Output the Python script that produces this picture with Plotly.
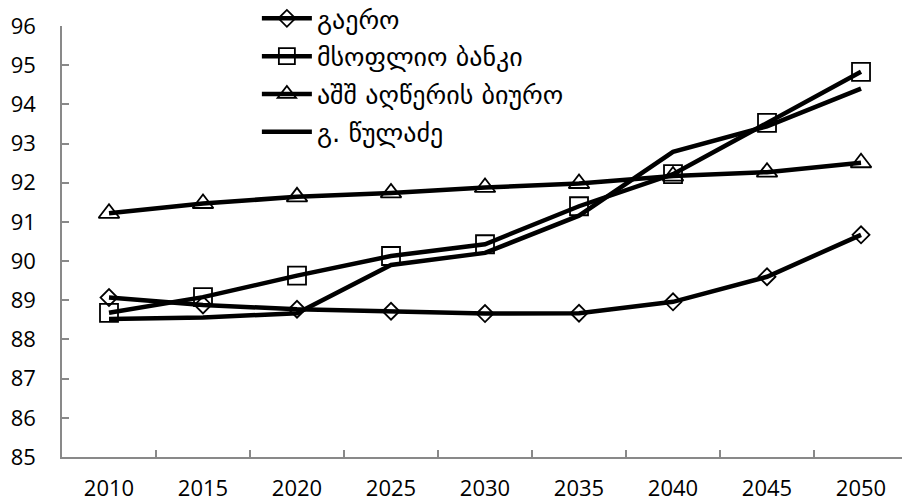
import plotly.graph_objects as go

years = ["2010", "2015", "2020", "2025", "2030", "2035", "2040", "2045", "2050"]

series_names = ["გაერო", "მსოფლიო ბანკი", "აშშ აღწერის ბიურო", "გ. წულაძე"]
un_values = [89.07, 88.88, 88.77, 88.72, 88.66, 88.67, 88.96, 89.60, 90.67]
wb_values = [88.68, 89.08, 89.63, 90.13, 90.43, 91.40, 92.22, 93.53, 94.83]
census_values = [91.22, 91.47, 91.64, 91.74, 91.88, 91.98, 92.17, 92.27, 92.51]
tsuladze_values = [88.52, 88.56, 88.67, 89.90, 90.21, 91.16, 92.79, 93.44, 94.40]

y_ticks = list(range(85, 97))

all_values = [un_values, wb_values, census_values, tsuladze_values]
symbols = ["diamond-open", "square-open", "triangle-up-open", None]
sizes = [13, 18, 18, 0]

fig = go.Figure()
for name, vals, sym, sz in zip(series_names, all_values, symbols, sizes):
    marker = dict(color="black", line=dict(color="black", width=1.8))
    if sym is not None:
        marker.update(symbol=sym, size=sz)
        mode = "lines+markers"
    else:
        mode = "lines"
    fig.add_trace(go.Scatter(
        x=years, y=vals, name=name, mode=mode,
        line=dict(color="black", width=4.5),
        marker=marker, legendgroup=name,
    ))

axis_font = dict(family="Open Sans, Roboto, sans-serif", size=22, color="black")

fig.update_layout(
    width=902, height=502,
    margin=dict(l=62, r=0, t=26, b=45, autoexpand=False),
    paper_bgcolor="white", plot_bgcolor="white",
    showlegend=True,
    legend=dict(
        x=0.232, y=1.072, xanchor="left", yanchor="top",
        font=dict(family="DejaVu Sans", size=26, color="black"),
        bgcolor="rgba(0,0,0,0)", tracegroupgap=1,
        itemwidth=50,
    ),
    xaxis=dict(
        type="category", range=[-0.5, 8.436], automargin=False,
        tickson="boundaries", ticks="inside", ticklen=7, tickwidth=1.5,
        tickcolor="#898989", showline=True, linecolor="#898989", linewidth=1.5,
        showgrid=False, zeroline=False, tickfont=axis_font,
        ticklabelstandoff=11,
    ),
    yaxis=dict(
        range=[85, 96], tickvals=y_ticks, ticktext=[str(v) for v in y_ticks],
        automargin=False,
        ticks="inside", ticklen=7, tickwidth=1.5, tickcolor="#898989",
        showline=True, linecolor="#898989", linewidth=1.5,
        showgrid=False, zeroline=False, tickfont=axis_font,
        ticklabelstandoff=20,
    ),
)

fig.write_html(
    "out.html",
    config={"displayModeBar": False},
    post_script="document.body.style.margin='0px';",
)
